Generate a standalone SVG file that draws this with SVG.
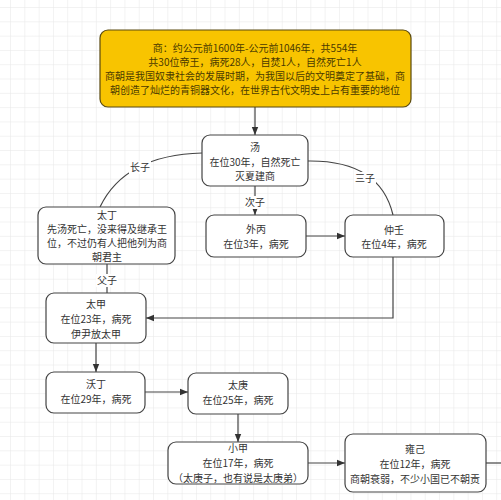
<svg xmlns="http://www.w3.org/2000/svg" width="501" height="500" viewBox="0 0 501 500">
<defs>
<pattern id="grid" width="14.3" height="14.3" patternUnits="userSpaceOnUse" x="11" y="8">
<path d="M14.3 0V14.3M0 14.3H14.3" fill="none" stroke="#e6e6e6" stroke-width="1"/>
</pattern>
<marker id="arr" viewBox="0 0 10 10" refX="10" refY="5" markerWidth="7" markerHeight="7" orient="auto">
<path d="M0 1L10 5L0 9z" fill="#333"/>
</marker>
<style>
.box{fill:#fff;stroke:#444;stroke-width:1.2}
.t{font-family:"Noto Sans CJK SC","Noto Sans",sans-serif;font-size:10px;fill:#333;text-anchor:middle}
.tb{font-family:"Noto Sans CJK SC","Noto Sans",sans-serif;font-size:10px;fill:#4a3a00;text-anchor:middle}
.c{fill:none;stroke:#444;stroke-width:1.2}
.lbl{font-family:"Noto Sans CJK SC","Noto Sans",sans-serif;font-size:10px;fill:#333;text-anchor:middle}
</style>
</defs>
<rect width="501" height="500" fill="#fff"/>
<rect width="501" height="500" fill="url(#grid)"/>
<g id="connectors">
<path class="c" d="M255 107V135" marker-end="url(#arr)"/>
<path class="c" d="M202 153Q125 155 100 207"/>
<rect x="129" y="161" width="22" height="13" fill="#fff"/>
<text class="lbl" x="140" y="171">长子</text>
<path class="c" d="M308 161Q380 160 393 215"/>
<rect x="354" y="172" width="22" height="13" fill="#fff"/>
<text class="lbl" x="365" y="182">三子</text>
<path class="c" d="M255 186V215" marker-end="url(#arr)"/>
<rect x="244" y="196" width="22" height="13" fill="#fff"/>
<text class="lbl" x="255" y="206">次子</text>
<path class="c" d="M306 236H345" marker-end="url(#arr)"/>
<path class="c" d="M107 264V293"/>
<rect x="96" y="274" width="22" height="13" fill="#fff"/>
<text class="lbl" x="107" y="284">父子</text>
<path class="c" d="M393 257V318H146" marker-end="url(#arr)"/>
<path class="c" d="M96 343V372" marker-end="url(#arr)"/>
<path class="c" d="M145 392H188" marker-end="url(#arr)"/>
<path class="c" d="M238 414V442" marker-end="url(#arr)"/>
<path class="c" d="M308 463H345" marker-end="url(#arr)"/>
<path class="c" d="M486 463H501"/>
</g>
<g id="shang">
<rect x="100" y="30" width="311" height="77" rx="8" fill="#f8c400" stroke="#5a4a10" stroke-width="1.2"/>
<text class="tb" x="255" y="52">商：约公元前1600年-公元前1046年，共554年</text>
<text class="tb" x="255" y="66">共30位帝王，病死28人，自焚1人，自然死亡1人</text>
<text class="tb" x="255" y="80">商朝是我国奴隶社会的发展时期，为我国以后的文明奠定了基础，商</text>
<text class="tb" x="255" y="94">朝创造了灿烂的青铜器文化，在世界古代文明史上占有重要的地位</text>
</g>
<g id="tang">
<rect class="box" x="202" y="135" width="106" height="51" rx="8"/>
<text class="t" x="255" y="151">汤</text>
<text class="t" x="255" y="166">在位30年，自然死亡</text>
<text class="t" x="255" y="180">灭夏建商</text>
</g>
<g id="taiding">
<rect class="box" x="38" y="207" width="137" height="57" rx="8"/>
<text class="t" x="107" y="219">太丁</text>
<text class="t" x="107" y="233">先汤死亡，没来得及继承王</text>
<text class="t" x="107" y="247">位，不过仍有人把他列为商</text>
<text class="t" x="107" y="261">朝君主</text>
</g>
<g id="waibing">
<rect class="box" x="206" y="215" width="100" height="42" rx="8"/>
<text class="t" x="256" y="233">外丙</text>
<text class="t" x="256" y="248">在位3年，病死</text>
</g>
<g id="zhongren">
<rect class="box" x="345" y="215" width="99" height="42" rx="8"/>
<text class="t" x="394" y="234">仲壬</text>
<text class="t" x="394" y="248">在位4年，病死</text>
</g>
<g id="taijia">
<rect class="box" x="46" y="293" width="100" height="50" rx="8"/>
<text class="t" x="96" y="308">太甲</text>
<text class="t" x="96" y="323">在位23年，病死</text>
<text class="t" x="96" y="338">伊尹放太甲</text>
</g>
<g id="woding">
<rect class="box" x="46" y="372" width="99" height="41" rx="8"/>
<text class="t" x="96" y="388">沃丁</text>
<text class="t" x="96" y="403">在位29年，病死</text>
</g>
<g id="taigeng">
<rect class="box" x="188" y="373" width="100" height="41" rx="8"/>
<text class="t" x="238" y="389">太庚</text>
<text class="t" x="238" y="404">在位25年，病死</text>
</g>
<g id="xiaojia">
<rect class="box" x="168" y="442" width="140" height="42" rx="8"/>
<text class="t" x="238" y="452">小甲</text>
<text class="t" x="238" y="467">在位17年，病死</text>
<text class="t" x="238" y="482">（太庚子，也有说是太庚弟）</text>
</g>
<g id="yongji">
<rect class="box" x="345" y="434" width="141" height="58" rx="8"/>
<text class="t" x="415" y="453">雍己</text>
<text class="t" x="415" y="468">在位12年，病死</text>
<text class="t" x="415" y="483">商朝衰弱，不少小国已不朝贡</text>
</g>
</svg>
